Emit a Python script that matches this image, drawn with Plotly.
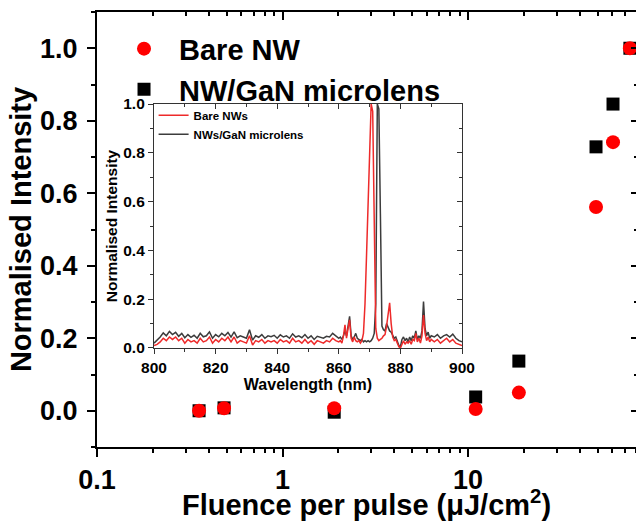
import plotly.graph_objects as go

# ---------------- main data ----------------
fluence = [0.355, 0.484, 1.9, 11.0, 18.8, 49.0, 60.5, 74.6]
bare_nw = [0.0, 0.007, 0.007, 0.005, 0.05, 0.562, 0.741, 1.0]
nw_lens = [0.0, 0.008, -0.004, 0.038, 0.137, 0.728, 0.846, 1.0]

main_series_names = ["Bare NW", "NW/GaN microlens"]
x_major_vals = [0.1, 1, 10]
x_major_text = ["0.1", "1", "10"]
x_minor_vals = [0.2, 0.3, 0.4, 0.5, 0.6, 0.7, 0.8, 0.9,
                2, 3, 4, 5, 6, 7, 8, 9, 20, 30, 40, 50, 60, 70, 80]

# ---------------- inset spectra ----------------
wavelength = [
    800, 801, 802, 803, 804, 805, 806, 807, 808, 809,
    810, 811, 812, 813, 814, 815, 816, 817, 818, 819,
    820, 821, 822, 823, 824, 825, 826, 827, 828, 829,
    830, 831, 832, 833, 834, 835, 836, 837, 838, 839,
    840, 841, 842, 843, 844, 845, 846, 847, 848, 849,
    850, 851, 852, 853, 854, 855, 856, 857, 858, 859,
    860, 860.5, 861, 861.5, 862, 862.5, 863, 863.5, 864, 864.5,
    865, 865.5, 866, 866.5, 867, 867.5, 868, 868.5, 869, 869.5,
    870, 870.5, 871, 871.5, 872, 872.5, 873, 873.5, 874, 874.5,
    875, 875.5, 876, 876.5, 877, 877.5, 878, 878.5, 879, 879.5,
    880, 880.5, 881, 881.5, 882, 882.5, 883, 883.5, 884, 884.5,
    885, 885.5, 886, 886.5, 887, 887.5, 888, 888.5, 889, 889.5,
    890, 891, 892, 893, 894, 895, 896, 897, 898, 899, 900,
]
spec_bare = [
    0.010, 0.015, 0.025, 0.040, 0.030, 0.045, 0.035, 0.045, 0.030, 0.040,
    0.020, 0.035, 0.025, 0.030, 0.020, 0.040, 0.025, 0.030, 0.045, 0.020,
    0.035, 0.025, 0.040, 0.030, 0.045, 0.025, 0.045, 0.020, 0.030, 0.025,
    0.020, 0.050, 0.012, 0.030, 0.025, 0.035, 0.020, 0.030, 0.025, 0.030,
    0.020, 0.035, 0.025, 0.030, 0.020, 0.040, 0.025, 0.030, 0.020, 0.035,
    0.020, 0.030, 0.015, 0.030, 0.025, 0.020, 0.030, 0.025, 0.040, 0.030,
    0.025, 0.030, 0.020, 0.050, 0.095, 0.040, 0.080, 0.115, 0.040, 0.025,
    0.045, 0.030, 0.025, 0.030, 0.020, 0.030, 0.060, 0.180, 0.380, 0.580,
    0.800, 1.000, 0.970, 0.450, 0.080, 0.040, 0.030, 0.035, 0.040, 0.050,
    0.055, 0.090, 0.150, 0.185, 0.100, 0.045, 0.030, 0.035, 0.020, 0.005,
    0.000, 0.020, 0.030, 0.015, 0.025, 0.020, 0.030, 0.015, 0.035, 0.030,
    0.060, 0.025, 0.040, 0.020, 0.050, 0.135, 0.060, 0.030, 0.045, 0.025,
    0.035, 0.025, 0.035, 0.020, 0.030, 0.040, 0.025, 0.035, 0.020, 0.015, 0.010,
]
spec_lens = [
    0.020, 0.032, 0.045, 0.062, 0.050, 0.068, 0.055, 0.064, 0.048, 0.060,
    0.042, 0.055, 0.044, 0.052, 0.040, 0.060, 0.046, 0.050, 0.066, 0.040,
    0.055, 0.046, 0.060, 0.050, 0.064, 0.045, 0.066, 0.042, 0.050, 0.045,
    0.040, 0.075, 0.032, 0.050, 0.044, 0.055, 0.040, 0.050, 0.046, 0.052,
    0.040, 0.054, 0.045, 0.050, 0.040, 0.058, 0.045, 0.050, 0.042, 0.055,
    0.040, 0.050, 0.035, 0.048, 0.045, 0.040, 0.048, 0.045, 0.060, 0.050,
    0.040, 0.045, 0.035, 0.050, 0.070, 0.050, 0.090, 0.130, 0.050, 0.035,
    0.045, 0.060, 0.040, 0.035, 0.030, 0.035, 0.025, 0.030, 0.025, 0.030,
    0.025, 0.030, 0.040, 0.060, 0.180, 1.000, 0.980, 0.550, 0.090, 0.075,
    0.070, 0.100, 0.080, 0.070, 0.065, 0.050, 0.040, 0.045, 0.030, 0.010,
    0.005, 0.035, 0.045, 0.030, 0.040, 0.025, 0.045, 0.030, 0.050, 0.040,
    0.070, 0.035, 0.050, 0.040, 0.070, 0.190, 0.080, 0.050, 0.065, 0.040,
    0.050, 0.045, 0.055, 0.040, 0.050, 0.055, 0.045, 0.057, 0.040, 0.030, 0.025,
]
inset_series_names = ["Bare NWs", "NWs/GaN microlens"]

FONT = "Liberation Sans, Arial, sans-serif"
RED = "#ff0000"
BLACK = "#000000"

fig = go.Figure()

# main markers (squares first so circles sit on top)
fig.add_trace(go.Scatter(
    x=fluence, y=nw_lens, mode="markers", name=main_series_names[1],
    marker=dict(symbol="square", size=13, color=BLACK),
    xaxis="x", yaxis="y", legend="legend"))
fig.add_trace(go.Scatter(
    x=fluence, y=bare_nw, mode="markers", name=main_series_names[0],
    marker=dict(symbol="circle", size=14, color=RED),
    xaxis="x", yaxis="y", legend="legend"))
# dummy trace for mirror axes of main plot
fig.add_trace(go.Scatter(x=[], y=[], xaxis="x2", yaxis="y2",
                         showlegend=False, hoverinfo="skip"))

# inset spectra
fig.add_trace(go.Scatter(
    x=wavelength, y=spec_lens, mode="lines", name=inset_series_names[1],
    line=dict(color="#3c3c3c", width=1.5),
    xaxis="x3", yaxis="y3", legend="legend2"))
fig.add_trace(go.Scatter(
    x=wavelength, y=spec_bare, mode="lines", name=inset_series_names[0],
    line=dict(color="#ee2a2a", width=1.5),
    xaxis="x3", yaxis="y3", legend="legend2"))
fig.add_trace(go.Scatter(x=[], y=[], xaxis="x4", yaxis="y4",
                         showlegend=False, hoverinfo="skip"))

x_rng = [-1, 1.9057]
y_rng = [-0.1, 1.1]

ix_dom = [0.1058, 0.6772]
iy_dom = [0.2276, 0.7885]

fig.update_layout(
    width=636, height=521,
    margin=dict(l=97, r=0, t=12, b=74),
    paper_bgcolor="white", plot_bgcolor="white",
    font=dict(family=FONT, color="black", weight="bold"),
    xaxis=dict(
        type="log", range=x_rng, domain=[0, 1], anchor="y", automargin=False,
        tickmode="array", tickvals=x_major_vals, ticktext=x_major_text,
        ticks="outside", ticklen=8, tickwidth=2, tickcolor="black",
        minor=dict(tickmode="array", tickvals=x_minor_vals, ticks="outside",
                   ticklen=4, tickwidth=1.5, tickcolor="black"),
        showline=True, linewidth=2, linecolor="black", showgrid=False, zeroline=False,
        tickfont=dict(size=27, family=FONT, weight="bold"),
        title=dict(text="Fluence per pulse (μJ/cm<sup>2</sup>)",
                   font=dict(size=29, family=FONT, weight="bold"), standoff=4),
    ),
    yaxis=dict(
        range=y_rng, domain=[0, 1], anchor="x", automargin=False,
        tickmode="linear", tick0=0, dtick=0.2, tickformat=".1f",
        ticks="outside", ticklen=8, tickwidth=2, tickcolor="black",
        minor=dict(tickmode="linear", tick0=0.1, dtick=0.2, ticks="outside",
                   ticklen=4, tickwidth=1.5, tickcolor="black"),
        showline=True, linewidth=2, linecolor="black", showgrid=False, zeroline=False,
        tickfont=dict(size=27, family=FONT, weight="bold"),
        ticklabelstandoff=4,
        title=dict(text="Normalised Intensity",
                   font=dict(size=29, family=FONT, weight="bold"), standoff=0),
    ),
    xaxis2=dict(
        type="log", range=x_rng, overlaying="x", side="top", anchor="y2",
        automargin=False,
        tickmode="array", tickvals=x_major_vals, showticklabels=False,
        ticks="inside", ticklen=8, tickwidth=2, tickcolor="black",
        minor=dict(tickmode="array", tickvals=x_minor_vals, ticks="inside",
                   ticklen=4, tickwidth=1.5, tickcolor="black"),
        showline=True, linewidth=2, linecolor="black", showgrid=False, zeroline=False,
    ),
    yaxis2=dict(
        range=y_rng, overlaying="y", side="right", anchor="x2", automargin=False,
        tickmode="linear", tick0=0, dtick=0.2, showticklabels=False,
        ticks="inside", ticklen=5, tickwidth=2, tickcolor="black",
        minor=dict(tickmode="linear", tick0=0.1, dtick=0.2, ticks="inside",
                   ticklen=2, tickwidth=1.5, tickcolor="black"),
        showline=False, showgrid=False, zeroline=False,
    ),
    xaxis3=dict(
        range=[800, 900], domain=ix_dom, anchor="y3", automargin=False,
        tickmode="linear", tick0=800, dtick=20,
        ticks="outside", ticklen=5, tickwidth=1, tickcolor="#333",
        minor=dict(tickmode="linear", tick0=810, dtick=20, ticks="outside",
                   ticklen=3, tickwidth=1, tickcolor="#333"),
        showline=True, linewidth=1.2, linecolor="#333", showgrid=False, zeroline=False,
        tickfont=dict(size=15.5, family=FONT, weight="bold"),
        title=dict(text="Wavelength (nm)",
                   font=dict(size=16, family=FONT, weight="bold"), standoff=1),
    ),
    yaxis3=dict(
        range=[0, 1.0], domain=iy_dom, anchor="x3", automargin=False,
        tickmode="linear", tick0=0, dtick=0.2, tickformat=".1f",
        ticks="outside", ticklen=5, tickwidth=1, tickcolor="#333",
        minor=dict(tickmode="linear", tick0=0.1, dtick=0.2, ticks="outside",
                   ticklen=3, tickwidth=1, tickcolor="#333"),
        showline=True, linewidth=1.2, linecolor="#333", showgrid=False, zeroline=False,
        tickfont=dict(size=15.5, family=FONT, weight="bold"),
        title=dict(text="Normalised Intensity",
                   font=dict(size=15.5, family=FONT, weight="bold"), standoff=1),
    ),
    xaxis4=dict(
        range=[800, 900], domain=ix_dom, overlaying="x3", side="top", anchor="y4",
        automargin=False,
        tickmode="linear", tick0=800, dtick=20, showticklabels=False,
        ticks="inside", ticklen=5, tickwidth=1, tickcolor="#333",
        minor=dict(tickmode="linear", tick0=810, dtick=20, ticks="inside",
                   ticklen=3, tickwidth=1, tickcolor="#333"),
        showline=True, linewidth=1.2, linecolor="#333", showgrid=False, zeroline=False,
    ),
    yaxis4=dict(
        range=[0, 1.0], domain=iy_dom, overlaying="y3", side="right", anchor="x4",
        automargin=False,
        tickmode="linear", tick0=0, dtick=0.2, showticklabels=False,
        ticks="inside", ticklen=5, tickwidth=1, tickcolor="#333",
        minor=dict(tickmode="linear", tick0=0.1, dtick=0.2, ticks="inside",
                   ticklen=3, tickwidth=1, tickcolor="#333"),
        showline=True, linewidth=1.2, linecolor="#333", showgrid=False, zeroline=False,
    ),
    legend=dict(
        x=0.0223, y=0.974, xanchor="left", yanchor="top",
        traceorder="reversed", bgcolor="rgba(0,0,0,0)",
        font=dict(size=29, family=FONT, weight="bold"),
        itemwidth=60, tracegroupgap=0,
    ),
    legend2=dict(
        x=0.105, y=0.796, xanchor="left", yanchor="top",
        traceorder="reversed", bgcolor="rgba(0,0,0,0)",
        font=dict(size=11.5, family=FONT, weight="bold"),
        itemwidth=30, tracegroupgap=0,
    ),
    showlegend=True,
)

fig.write_html("out.html")
